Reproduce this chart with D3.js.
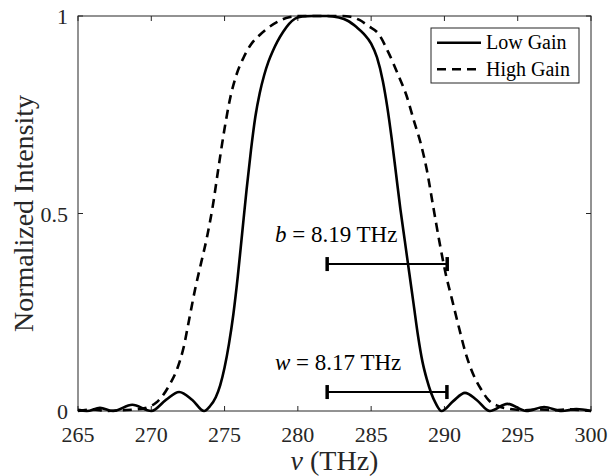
<!DOCTYPE html>
<html><head><meta charset="utf-8">
<script src="https://cdn.jsdelivr.net/npm/d3@7"></script>
<style>body{margin:0;background:#fff}svg{display:block}</style>
</head><body>
<svg id="c" width="610" height="476"></svg>
<script>
// Data
const lowFreq = [265.0,265.6,266.5,267.4,268.7,270.0,271.0,271.9,272.8,273.6,274.0,274.4,274.7,275.0,275.3,275.6,275.9,276.2,276.5,276.8,277.1,277.4,277.7,278.0,278.3,278.6,279.0,279.4,279.8,280.3,281.0,282.0,282.8,283.4,284.0,284.5,285.0,285.4,285.8,286.1,286.4,286.7,287.0,287.3,287.6,287.9,288.2,288.5,288.8,289.1,289.4,289.8,290.6,291.4,292.2,293.1,294.3,295.6,296.8,298.0,299.0,300.0];
const lowVal  = [0.003,0.0,0.008,0.0,0.016,0.0,0.028,0.048,0.028,0.0,0.012,0.035,0.065,0.11,0.17,0.245,0.34,0.45,0.56,0.66,0.745,0.805,0.85,0.885,0.912,0.935,0.96,0.98,0.993,0.999,1.0,1.0,0.996,0.988,0.972,0.955,0.93,0.895,0.835,0.77,0.69,0.6,0.51,0.43,0.35,0.27,0.19,0.125,0.08,0.045,0.02,0.0,0.025,0.046,0.028,0.0,0.018,0.0,0.01,0.0,0.005,0.0];
const highFreq = [265.0,266.0,267.0,268.0,269.0,269.8,270.3,270.8,271.3,271.8,272.2,272.6,273.0,273.4,273.8,274.2,274.6,275.0,275.4,275.8,276.3,276.8,277.4,277.9,278.6,279.4,280.3,282.0,283.0,283.6,284.2,284.8,285.5,286.2,286.9,287.4,287.9,288.4,288.8,289.2,289.7,290.1,290.5,291.0,291.5,292.0,292.5,293.0,293.7,294.5,295.5,296.5,297.5,298.5,300.0];
const highVal  = [0.0,0.004,0.0,0.002,0.004,0.01,0.02,0.04,0.07,0.11,0.16,0.235,0.31,0.375,0.44,0.52,0.62,0.715,0.795,0.85,0.895,0.928,0.952,0.968,0.985,0.997,1.0,1.0,1.0,0.998,0.99,0.975,0.955,0.906,0.846,0.8,0.737,0.675,0.61,0.525,0.42,0.345,0.285,0.21,0.14,0.09,0.055,0.028,0.012,0.005,0.002,0.004,0.002,0.004,0.0];
const xTicks = [265,270,275,280,285,290,295,300];
const yTicks = [0,0.5,1];
const yTickLabels = ["0","0.5","1"];
const seriesNames = ["Low Gain","High Gain"];
const bars = [ {name:"b", text:" = 8.19 THz", x0:282, x1:290.19, y:0.372},
               {name:"w", text:" = 8.17 THz", x0:282, x1:290.17, y:0.048} ];

const svg = d3.select("#c").attr("font-family","Liberation Serif");
const L=78, R=591, T=16, B=411;
const x = d3.scaleLinear().domain([265,300]).range([L,R]);
const y = d3.scaleLinear().domain([0,1]).range([B,T]);
const ax = "#262626";

svg.append("rect").attr("x",L).attr("y",T).attr("width",R-L).attr("height",B-T)
  .attr("fill","none").attr("stroke",ax).attr("stroke-width",1);
xTicks.forEach(t=>{
  svg.append("line").attr("x1",x(t)).attr("x2",x(t)).attr("y1",B).attr("y2",B-5).attr("stroke",ax);
  svg.append("line").attr("x1",x(t)).attr("x2",x(t)).attr("y1",T).attr("y2",T+5).attr("stroke",ax);
  svg.append("text").attr("x",x(t)).attr("y",442).attr("text-anchor","middle").attr("font-size",22).attr("fill",ax).text(t);
});
yTicks.forEach((t,i)=>{
  svg.append("line").attr("x1",L).attr("x2",L+5).attr("y1",y(t)).attr("y2",y(t)).attr("stroke",ax);
  svg.append("line").attr("x1",R).attr("x2",R-5).attr("y1",y(t)).attr("y2",y(t)).attr("stroke",ax);
  svg.append("text").attr("x",68).attr("y",y(t)+8).attr("text-anchor","end").attr("font-size",22).attr("fill",ax).text(yTickLabels[i]);
});
const xl = svg.append("text").attr("x",(L+R)/2).attr("y",470).attr("text-anchor","middle").attr("font-size",28).attr("fill",ax);
xl.append("tspan").attr("font-style","italic").text("ν");
xl.append("tspan").text(" (THz)");
svg.append("text").attr("transform",`translate(33,${(T+B)/2}) rotate(-90)`).attr("text-anchor","middle").attr("font-size",28).attr("fill",ax).text("Normalized Intensity");

const line = d3.line().x(d=>x(d[0])).y(d=>y(d[1])).curve(d3.curveMonotoneX);
const lowData = lowFreq.map((f,i)=>[f,lowVal[i]]);
const highData = highFreq.map((f,i)=>[f,highVal[i]]);
svg.append("path").datum(highData).attr("d",line).attr("fill","none").attr("stroke","#000").attr("stroke-width",2.6).attr("stroke-dasharray","9,6");
svg.append("path").datum(lowData).attr("d",line).attr("fill","none").attr("stroke","#000").attr("stroke-width",2.6);

bars.forEach(b=>{
  svg.append("line").attr("x1",x(b.x0)).attr("x2",x(b.x1)).attr("y1",y(b.y)).attr("y2",y(b.y)).attr("stroke","#000").attr("stroke-width",2);
  [b.x0,b.x1].forEach(v=>{
    svg.append("line").attr("x1",x(v)).attr("x2",x(v)).attr("y1",y(b.y)-7).attr("y2",y(b.y)+7).attr("stroke","#000").attr("stroke-width",3.5);
  });
  const t = svg.append("text").attr("x",275).attr("y",y(b.y)-22).attr("font-size",23).attr("fill","#000");
  t.append("tspan").attr("font-style","italic").text(b.name);
  t.append("tspan").text(b.text);
});

svg.append("rect").attr("x",431).attr("y",28).attr("width",148).attr("height",55).attr("fill","#fff").attr("stroke",ax).attr("stroke-width",1);
seriesNames.forEach((n,i)=>{
  const yy = 42.7 + i*26.6;
  svg.append("line").attr("x1",437).attr("x2",481).attr("y1",yy).attr("y2",yy).attr("stroke","#000").attr("stroke-width",2.6)
    .attr("stroke-dasharray", i===1 ? "9,6" : null);
  svg.append("text").attr("x",486).attr("y",yy+6.5).attr("font-size",20).attr("fill","#000").text(n);
});
</script>
</body></html>
